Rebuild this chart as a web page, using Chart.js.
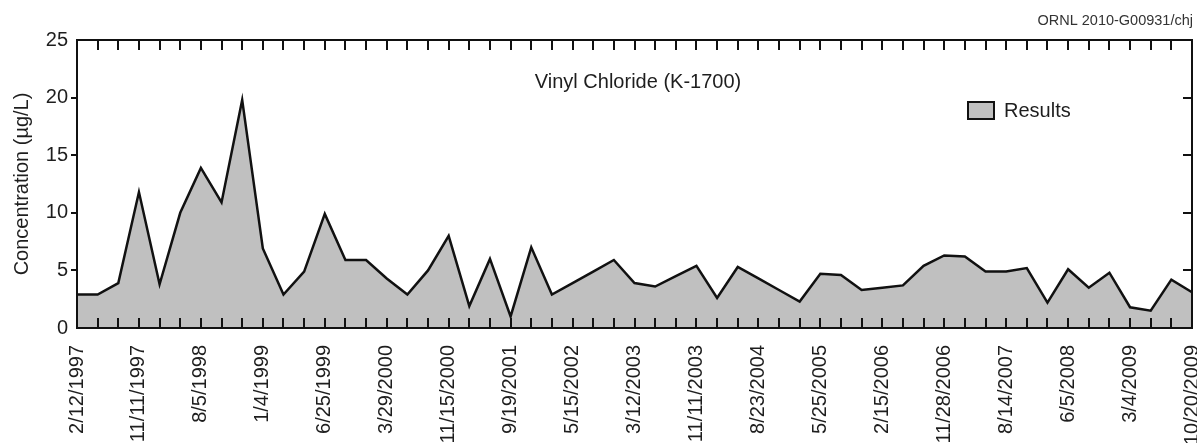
<!DOCTYPE html>
<html>
<head>
<meta charset="utf-8">
<script src="https://cdn.jsdelivr.net/npm/chart.js@4"></script>
<style>
  html, body { margin: 0; padding: 0; background: #fff; }
  #c { display: block; }
</style>
</head>
<body>
<canvas id="c" width="1197" height="443"></canvas>
<script>
// Sampling dates shown on the x axis (every third sample is labelled)
const tickLabels = [
  '2/12/1997', '11/11/1997', '8/5/1998', '1/4/1999', '6/25/1999', '3/29/2000',
  '11/15/2000', '9/19/2001', '5/15/2002', '3/12/2003', '11/11/2003', '8/23/2004',
  '5/25/2005', '2/15/2006', '11/28/2006', '8/14/2007', '6/5/2008', '3/4/2009',
  '10/20/2009'
];

// Vinyl chloride concentration per sampling event (µg/L)
const results = [
  2.9, 2.9, 3.9, 11.8, 3.8, 10.0, 13.9, 10.9, 19.8, 6.9,
  2.9, 4.9, 9.9, 5.9, 5.9, 4.3, 2.9, 5.0, 8.0, 1.9,
  6.0, 1.0, 7.0, 2.9, 3.9, 4.9, 5.9, 3.9, 3.6, 4.5,
  5.4, 2.6, 5.3, 4.3, 3.3, 2.3, 4.7, 4.6, 3.3, 3.5,
  3.7, 5.4, 6.3, 6.2, 4.9, 4.9, 5.2, 2.2, 5.1, 3.5,
  4.8, 1.8, 1.5, 4.2, 3.1
];

const yTicks = [0, 5, 10, 15, 20, 25];

const chartTitle = 'Vinyl Chloride (K-1700)';
const figureId = 'ORNL 2010-G00931/chj';
const yTitle = 'Concentration (µg/L)';

// One category per sample; only every third one carries a date
const categories = results.map((_, i) => (i % 3 === 0 ? tickLabels[i / 3] : ''));

const FONT = "'Liberation Sans', Arial, sans-serif";
const INK = '#1e1e1e';

// Frame, inward tick marks, in-plot title, legend and figure id
const decorations = {
  id: 'decorations',
  afterDatasetsDraw(chart) {
    const { ctx, chartArea: a, scales } = chart;
    const xs = scales.x, ys = scales.y;
    ctx.save();
    ctx.strokeStyle = '#111';
    ctx.lineWidth = 2;
    ctx.lineCap = 'butt';
    ctx.strokeRect(a.left, a.top, a.right - a.left, a.bottom - a.top);

    ctx.beginPath();
    for (let i = 1; i < categories.length - 1; i++) {
      const px = Math.round(xs.getPixelForValue(i));
      ctx.moveTo(px, a.top);
      ctx.lineTo(px, a.top + 10);
      ctx.moveTo(px, a.bottom);
      ctx.lineTo(px, a.bottom - 10);
    }
    yTicks.slice(1, -1).forEach(v => {
      const py = Math.round(ys.getPixelForValue(v));
      ctx.moveTo(a.right, py);
      ctx.lineTo(a.right - 9, py);
    });
    ctx.stroke();

    // Title inside the plot
    ctx.fillStyle = INK;
    ctx.font = '20px ' + FONT;
    ctx.textAlign = 'center';
    ctx.textBaseline = 'alphabetic';
    ctx.fillText(chartTitle, 638, 88);

    // Legend
    const ds = chart.data.datasets[0];
    ctx.fillStyle = ds.backgroundColor;
    ctx.fillRect(968, 102, 26, 17);
    ctx.lineWidth = 2;
    ctx.strokeStyle = ds.borderColor;
    ctx.strokeRect(968, 102, 26, 17);
    ctx.fillStyle = INK;
    ctx.textAlign = 'left';
    ctx.fillText(ds.label, 1004, 117);

    // Figure id
    ctx.font = '14.5px ' + FONT;
    ctx.textAlign = 'right';
    ctx.fillStyle = '#333';
    ctx.fillText(figureId, 1193, 25);
    ctx.restore();
  }
};

new Chart(document.getElementById('c'), {
  type: 'line',
  data: {
    labels: categories,
    datasets: [{
      label: 'Results',
      data: results,
      borderColor: '#111',
      borderWidth: 2.5,
      backgroundColor: '#c0c0c0',
      fill: 'origin',
      tension: 0,
      pointRadius: 0,
      pointHoverRadius: 0
    }]
  },
  options: {
    responsive: false,
    animation: false,
    devicePixelRatio: 1,
    layout: { padding: { top: 40, right: 5, bottom: 0, left: 0 } },
    plugins: {
      legend: { display: false },
      tooltip: { enabled: false },
      title: { display: false }
    },
    scales: {
      x: {
        type: 'category',
        offset: false,
        grid: { display: false, drawTicks: false },
        border: { display: false },
        ticks: {
          autoSkip: false,
          minRotation: 90,
          maxRotation: 90,
          padding: 17,
          color: INK,
          font: { family: FONT, size: 20 }
        },
        afterFit(s) {
          s.height = 115;
          s.paddingLeft = 0;
          s.paddingRight = 0;
        }
      },
      y: {
        min: 0,
        max: 25,
        afterBuildTicks(s) { s.ticks = yTicks.map(v => ({ value: v })); },
        grid: {
          drawOnChartArea: false,
          drawTicks: true,
          tickLength: 6,
          lineWidth: 2,
          color: '#111',
          tickColor: c => (c.tick && (c.tick.value === 0 || c.tick.value === 25)) ? 'rgba(0,0,0,0)' : '#111'
        },
        border: { display: false },
        ticks: {
          padding: 3,
          color: INK,
          font: { family: FONT, size: 20 }
        },
        title: {
          display: true,
          text: yTitle,
          color: INK,
          font: { family: FONT, size: 20 },
          padding: { top: 10, bottom: 0 }
        },
        afterFit(s) { s.width = 77; }
      }
    }
  },
  plugins: [decorations]
});
</script>
</body>
</html>
